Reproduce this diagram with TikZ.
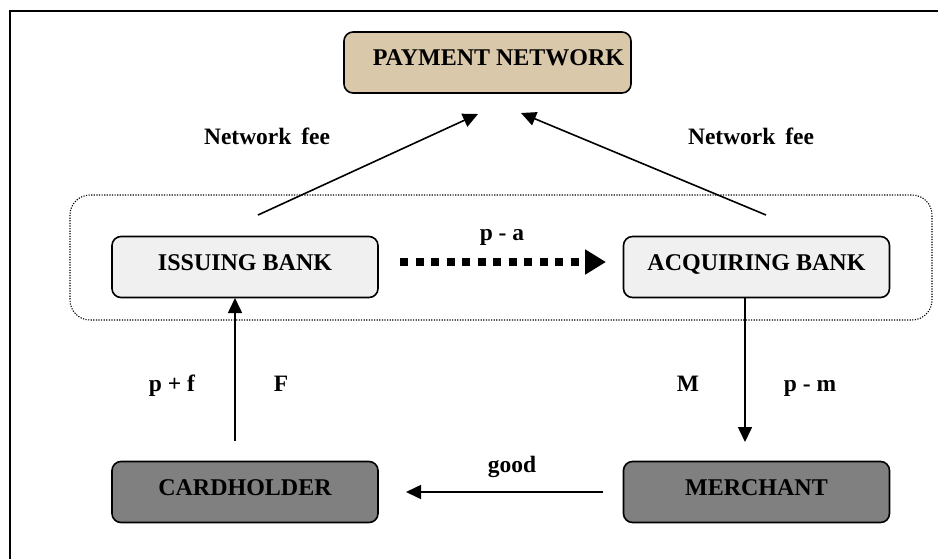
\documentclass[tikz,border=0pt]{standalone}
\usepackage{fontspec}
\setmainfont{Liberation Serif}
\usetikzlibrary{arrows.meta}
\definecolor{tanfill}{HTML}{D9C8AA}
\definecolor{lightfill}{HTML}{F0F0F0}
\definecolor{darkfill}{HTML}{808080}
\tikzset{
  boxbase/.style={draw=black, line width=1.6pt, rounded corners=9pt, minimum width=266pt, minimum height=61pt, inner sep=0pt, text depth=9pt, font=\fontsize{24}{28}\selectfont\bfseries},
  netbox/.style={boxbase, fill=tanfill, minimum width=287pt},
  bankbox/.style={boxbase, fill=lightfill},
  endbox/.style={boxbase, fill=darkfill},
  lbl/.style={font=\fontsize{23.5}{27}\selectfont\bfseries, inner sep=0pt, anchor=base},
  flow/.style={line width=1.6pt, -{Triangle[length=15pt,width=14pt]}},
}
\begin{document}
\begin{tikzpicture}[x=1pt,y=-1pt]
\useasboundingbox (0,0) rectangle (938,558);
\fill[white] (0,0) rectangle (938,558);
% frame
\coordinate (fa) at (10,560);
\coordinate (fb) at (10,11);
\coordinate (fc) at (940,11);
\draw[line width=2.2pt] (fa) -- (fb) -- (fc);
% dotted group
\draw[line width=1.1pt, dash pattern=on 1.2pt off 1.4pt, rounded corners=20pt] (70,195) rectangle (932,320);
% nodes
\node[netbox] (net) at (487.5,62.5) {\hspace*{22pt}PAYMENT NETWORK};
\node[bankbox] (iss) at (245,267) {ISSUING BANK};
\node[bankbox] (acq) at (756.5,267) {ACQUIRING BANK};
\node[endbox] (card) at (245,492) {CARDHOLDER};
\node[endbox] (mer) at (756.5,492) {MERCHANT};
% connector end points
\coordinate (n1s) at (258,215);
\coordinate (n1e) at (478,114);
\coordinate (n2s) at (766,215);
\coordinate (n2e) at (521,113);
\draw[flow] (n1s) -- (n1e);
\draw[flow] (n2s) -- (n2e);
% dashed thick arrow
\coordinate (ds) at (400,262);
\coordinate (de) at (606,262);
\draw[line width=8pt, dash pattern=on 8pt off 7.5pt, -{Triangle[length=21pt,width=24pt]}] (ds) -- (de);
% vertical arrows
\coordinate (cs) at (235,441);
\draw[flow] (cs) -- (235,298);
\coordinate (me) at (745,442);
\draw[flow] (745,298) -- (me);
% good arrow
\coordinate (gs) at (603,492);
\coordinate (ge) at (406,492);
\draw[flow] (gs) -- (ge);
% labels
\node[lbl] (l1) at (267,144) {Network\, fee};
\node[lbl] (l2) at (751,144) {Network\, fee};
\node[lbl] (l3) at (502,240) {p - a};
\node[lbl] (l4) at (172,391) {p + f};
\node[lbl] (l5) at (281,391) {F};
\node[lbl] (l6) at (688,391) {M};
\node[lbl] (l7) at (810,391) {p - m};
\node[lbl] (l8) at (512,472) {good};
\end{tikzpicture}
\end{document}
